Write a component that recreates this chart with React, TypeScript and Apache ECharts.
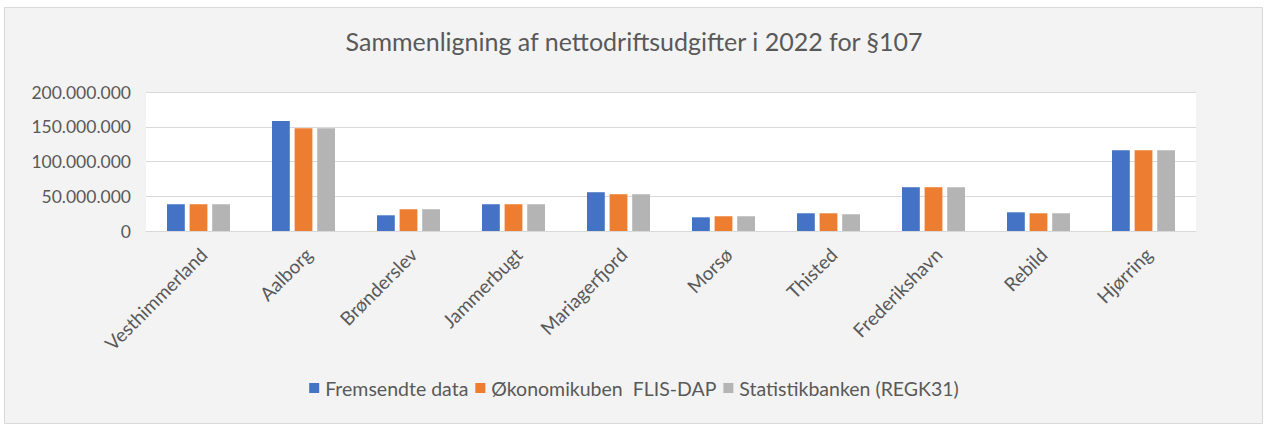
import React, { useEffect, useRef } from "react";
import * as echarts from "echarts";

const categories = [
  "Vesthimmerland",
  "Aalborg",
  "Brønderslev",
  "Jammerbugt",
  "Mariagerfjord",
  "Morsø",
  "Thisted",
  "Frederikshavn",
  "Rebild",
  "Hjørring",
];

const fremsendteData = [38500000, 158200000, 22600000, 38500000, 55800000, 19700000, 25500000, 63000000, 26900000, 116300000];
const okonomikuben = [38500000, 148000000, 31300000, 38500000, 52900000, 21200000, 25500000, 63000000, 25500000, 116300000];
const statistikbanken = [38500000, 148000000, 31300000, 38500000, 52900000, 21200000, 24000000, 63000000, 25500000, 116300000];

const seriesNames = ["Fremsendte data", "Økonomikuben  FLIS-DAP", "Statistikbanken (REGK31)"];
const seriesColors = ["#4472C4", "#ED7D31", "#B4B4B4"];

const FONT = "Lato, 'Open Sans', sans-serif";
const TEXT = "#595959";

const formatDots = (v: number) => String(Math.round(v)).replace(/\B(?=(\d{3})+(?!\d))/g, ".");

export default function App() {
  const ref = useRef<HTMLDivElement>(null);

  useEffect(() => {
    if (!ref.current) return;
    const chart = echarts.init(ref.current, undefined, { renderer: "svg" });
    const seriesData = [fremsendteData, okonomikuben, statistikbanken];
    chart.setOption({
      animation: false,
      backgroundColor: "#ffffff",
      textStyle: { fontFamily: FONT },
      graphic: [
        {
          type: "rect",
          z: -10,
          silent: true,
          shape: { x: 4.5, y: 7.5, width: 1258, height: 416 },
          style: { fill: "#F3F3F3", stroke: "#D9D9D9", lineWidth: 1 },
        },
      ],
      title: {
        text: "Sammenligning af nettodriftsudgifter i 2022 for §107",
        left: "center",
        top: 23,
        textStyle: { fontFamily: FONT, fontSize: 25, fontWeight: "normal", color: TEXT },
      },
      legend: {
        top: 373,
        left: "center",
        icon: "rect",
        itemWidth: 10,
        itemHeight: 10,
        itemGap: 7,
        textStyle: { fontFamily: FONT, fontSize: 19.5, color: TEXT, padding: [0, 0, 0, 1] },
        data: seriesNames,
      },
      grid: {
        left: 146,
        right: 72,
        top: 92,
        bottom: 196,
        show: true,
        backgroundColor: "#ffffff",
        borderWidth: 0,
        containLabel: false,
      },
      xAxis: {
        type: "category",
        data: categories,
        axisLine: { show: true, lineStyle: { color: "#D9D9D9", width: 1 } },
        axisTick: { show: false },
        axisLabel: {
          rotate: 45,
          interval: 0,
          margin: 25,
          padding: [0, -7, 0, 0],
          fontFamily: FONT,
          fontSize: 19,
          color: TEXT,
        },
      },
      yAxis: {
        type: "value",
        min: 0,
        max: 200000000,
        interval: 50000000,
        axisLine: { show: false },
        axisTick: { show: false },
        splitLine: { show: true, lineStyle: { color: "#D9D9D9", width: 1 } },
        axisLabel: {
          margin: 15,
          fontFamily: FONT,
          fontSize: 17.5,
          color: TEXT,
          formatter: (v: number) => formatDots(v),
        },
      },
      series: seriesNames.map((name, i) => ({
        name,
        type: "bar",
        data: seriesData[i],
        itemStyle: { color: seriesColors[i] },
        barCategoryGap: "40%",
        barGap: "27%",
      })),
    });
    return () => chart.dispose();
  }, []);

  return (
    <div
      ref={ref}
      style={{ position: "absolute", left: 0, top: 0, width: 1268, height: 427 }}
    />
  );
}
